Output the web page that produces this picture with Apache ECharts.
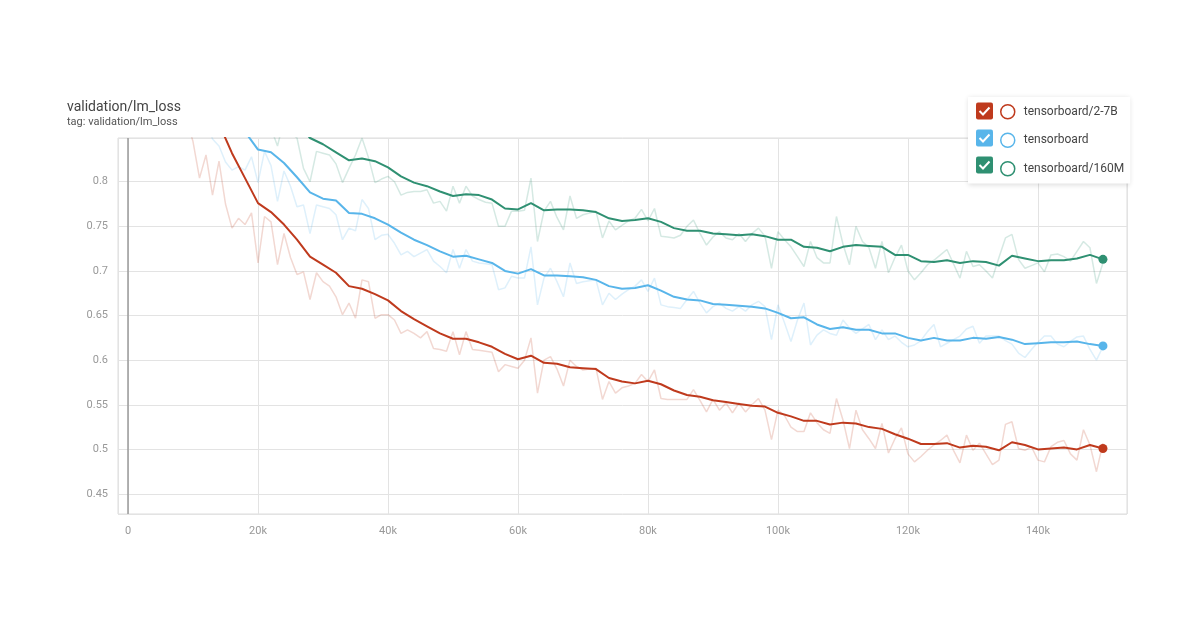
<!DOCTYPE html>
<html>
<head>
<meta charset="utf-8">
<title>validation/lm_loss</title>
<script src="https://cdn.jsdelivr.net/npm/echarts@6/dist/echarts.min.js"></script>
<style>
  html, body { margin: 0; padding: 0; background: #fff; }
  #chart { width: 1200px; height: 630px; }
</style>
</head>
<body>
<div id="chart"></div>
<script>
// run names as shown in the legend
const names = ["tensorboard/2-7B", "tensorboard", "tensorboard/160M"];
const colors = ["#bf3a1d", "#58b5ea", "#2f9072"];

// raw eval points, one every 1k steps (values in k steps)
const rawStepsK = [
  8, 9,
  10, 11, 12, 13, 14, 15, 16, 17, 18, 19,
  20, 21, 22, 23, 24, 25, 26, 27, 28, 29,
  30, 31, 32, 33, 34, 35, 36, 37, 38, 39,
  40, 41, 42, 43, 44, 45, 46, 47, 48, 49,
  50, 51, 52, 53, 54, 55, 56, 57, 58, 59,
  60, 61, 62, 63, 64, 65, 66, 67, 68, 69,
  70, 71, 72, 73, 74, 75, 76, 77, 78, 79,
  80, 81, 82, 83, 84, 85, 86, 87, 88, 89,
  90, 91, 92, 93, 94, 95, 96, 97, 98, 99,
  100, 101, 102, 103, 104, 105, 106, 107, 108, 109,
  110, 111, 112, 113, 114, 115, 116, 117, 118, 119,
  120, 121, 122, 123, 124, 125, 126, 127, 128, 129,
  130, 131, 132, 133, 134, 135, 136, 137, 138, 139,
  140, 141, 142, 143, 144, 145, 146, 147, 148, 149,
  150
];

const raw27B = [
  0.93, 0.87,
  0.845, 0.804, 0.830, 0.785, 0.823, 0.775, 0.748, 0.759, 0.752, 0.765,
  0.709, 0.761, 0.755, 0.707, 0.742, 0.715, 0.696, 0.699, 0.668, 0.698,
  0.688, 0.683, 0.671, 0.651, 0.664, 0.647, 0.690, 0.688, 0.647, 0.651,
  0.651, 0.645, 0.630, 0.634, 0.630, 0.625, 0.632, 0.613, 0.612, 0.610,
  0.632, 0.606, 0.632, 0.612, 0.611, 0.610, 0.609, 0.587, 0.595, 0.593,
  0.591, 0.600, 0.625, 0.563, 0.600, 0.604, 0.590, 0.571, 0.600, 0.593,
  0.589, 0.590, 0.591, 0.556, 0.576, 0.563, 0.569, 0.571, 0.574, 0.584,
  0.576, 0.589, 0.557, 0.556, 0.556, 0.556, 0.556, 0.567, 0.555, 0.542,
  0.556, 0.544, 0.552, 0.541, 0.552, 0.542, 0.550, 0.557, 0.544, 0.511,
  0.544, 0.538, 0.525, 0.520, 0.520, 0.541, 0.530, 0.522, 0.518, 0.557,
  0.533, 0.501, 0.544, 0.522, 0.512, 0.501, 0.529, 0.496, 0.512, 0.524,
  0.495, 0.486, 0.492, 0.499, 0.505, 0.510, 0.516, 0.499, 0.485, 0.516,
  0.499, 0.507, 0.495, 0.483, 0.488, 0.528, 0.531, 0.501, 0.499, 0.503,
  0.488, 0.486, 0.503, 0.508, 0.510, 0.495, 0.488, 0.522, 0.505, 0.475,
  0.507
];

const rawBase = [
  null, null,
  0.93, 0.90, 0.87, 0.848, 0.840, 0.822, 0.813, 0.817, 0.813, 0.828,
  0.799, 0.834, 0.818, 0.778, 0.812, 0.795, 0.772, 0.774, 0.742, 0.774,
  0.772, 0.770, 0.763, 0.735, 0.748, 0.745, 0.780, 0.770, 0.735, 0.740,
  0.741, 0.731, 0.718, 0.722, 0.716, 0.720, 0.724, 0.711, 0.705, 0.698,
  0.724, 0.703, 0.724, 0.711, 0.709, 0.708, 0.707, 0.679, 0.681, 0.694,
  0.692, 0.692, 0.727, 0.662, 0.692, 0.703, 0.688, 0.671, 0.709, 0.686,
  0.688, 0.689, 0.690, 0.662, 0.675, 0.668, 0.674, 0.679, 0.683, 0.690,
  0.677, 0.692, 0.662, 0.660, 0.659, 0.658, 0.668, 0.677, 0.664, 0.653,
  0.660, 0.664, 0.658, 0.655, 0.660, 0.655, 0.662, 0.666, 0.660, 0.623,
  0.662, 0.642, 0.621, 0.645, 0.664, 0.617, 0.628, 0.634, 0.630, 0.628,
  0.645, 0.636, 0.630, 0.635, 0.640, 0.623, 0.634, 0.623, 0.627, 0.620,
  0.615, 0.617, 0.622, 0.632, 0.640, 0.615, 0.619, 0.623, 0.627, 0.635,
  0.638, 0.619, 0.627, 0.627, 0.627, 0.622, 0.618, 0.608, 0.603, 0.612,
  0.620, 0.627, 0.627, 0.618, 0.615, 0.621, 0.626, 0.627, 0.612, 0.600,
  0.615
];

const raw160M = [
  null, null,
  null, null, null, null, null, null, null, null, null, null,
  0.95, 0.90, 0.86, 0.840, 0.87, 0.855, 0.849, 0.815, 0.800, 0.834,
  0.832, 0.830, 0.820, 0.799, 0.815, 0.830, 0.849, 0.827, 0.799, 0.803,
  0.806, 0.800, 0.785, 0.788, 0.789, 0.789, 0.791, 0.776, 0.778, 0.767,
  0.795, 0.776, 0.795, 0.784, 0.780, 0.777, 0.776, 0.750, 0.750, 0.767,
  0.767, 0.768, 0.804, 0.733, 0.767, 0.778, 0.760, 0.746, 0.784, 0.759,
  0.763, 0.765, 0.767, 0.737, 0.756, 0.746, 0.751, 0.756, 0.759, 0.769,
  0.756, 0.770, 0.739, 0.738, 0.737, 0.740, 0.750, 0.757, 0.742, 0.729,
  0.738, 0.744, 0.737, 0.735, 0.742, 0.733, 0.742, 0.748, 0.739, 0.703,
  0.744, 0.735, 0.727, 0.716, 0.705, 0.733, 0.715, 0.709, 0.709, 0.761,
  0.730, 0.707, 0.750, 0.733, 0.726, 0.703, 0.733, 0.698, 0.715, 0.729,
  0.700, 0.690, 0.698, 0.707, 0.712, 0.718, 0.724, 0.708, 0.692, 0.722,
  0.705, 0.707, 0.700, 0.692, 0.715, 0.737, 0.741, 0.713, 0.703, 0.706,
  0.709, 0.699, 0.718, 0.719, 0.716, 0.711, 0.722, 0.733, 0.726, 0.686,
  0.709
];

// smoothed curves, read every 2k steps
const smoothStepsK = [
  10, 12, 14, 16, 18, 20, 22, 24, 26, 28,
  30, 32, 34, 36, 38, 40, 42, 44, 46, 48,
  50, 52, 54, 56, 58, 60, 62, 64, 66, 68,
  70, 72, 74, 76, 78, 80, 82, 84, 86, 88,
  90, 92, 94, 96, 98, 100, 102, 104, 106, 108,
  110, 112, 114, 116, 118, 120, 122, 124, 126, 128,
  130, 132, 134, 136, 138, 140, 142, 144, 146, 148,
  150
];

const smooth27B = [
  0.93, 0.90, 0.865, 0.832, 0.804, 0.776, 0.766, 0.752, 0.735, 0.716,
  0.707, 0.698, 0.683, 0.680, 0.674, 0.667, 0.655, 0.646, 0.638, 0.630,
  0.624, 0.624, 0.620, 0.615, 0.607, 0.601, 0.605, 0.597, 0.596, 0.592,
  0.591, 0.590, 0.580, 0.576, 0.574, 0.577, 0.573, 0.566, 0.561, 0.559,
  0.555, 0.553, 0.551, 0.549, 0.548, 0.541, 0.537, 0.532, 0.532, 0.528,
  0.530, 0.529, 0.525, 0.523, 0.517, 0.512, 0.506, 0.506, 0.507, 0.502,
  0.504, 0.503, 0.499, 0.508, 0.505, 0.500, 0.501, 0.502, 0.500, 0.505,
  0.501
];

const smoothBase = [
  0.95, 0.93, 0.905, 0.88, 0.856, 0.836, 0.833, 0.821, 0.805, 0.788,
  0.781, 0.779, 0.765, 0.764, 0.759, 0.752, 0.743, 0.735, 0.729, 0.722,
  0.716, 0.717, 0.713, 0.709, 0.700, 0.697, 0.702, 0.695, 0.695, 0.694,
  0.693, 0.690, 0.683, 0.680, 0.681, 0.684, 0.678, 0.671, 0.668, 0.667,
  0.663, 0.662, 0.661, 0.660, 0.658, 0.653, 0.647, 0.648, 0.640, 0.635,
  0.637, 0.634, 0.634, 0.630, 0.630, 0.625, 0.622, 0.625, 0.622, 0.622,
  0.625, 0.624, 0.626, 0.623, 0.618, 0.619, 0.620, 0.620, 0.621, 0.618,
  0.616
];

const smooth160M = [
  null, null, null, null, null, 0.92, 0.90, 0.885, 0.866, 0.849,
  0.842, 0.833, 0.824, 0.826, 0.823, 0.816, 0.806, 0.799, 0.795, 0.789,
  0.784, 0.786, 0.785, 0.780, 0.770, 0.769, 0.776, 0.768, 0.769, 0.769,
  0.768, 0.766, 0.759, 0.756, 0.757, 0.759, 0.755, 0.748, 0.745, 0.745,
  0.742, 0.741, 0.740, 0.741, 0.739, 0.735, 0.735, 0.727, 0.726, 0.722,
  0.727, 0.729, 0.728, 0.727, 0.718, 0.718, 0.711, 0.710, 0.712, 0.709,
  0.711, 0.710, 0.706, 0.717, 0.714, 0.711, 0.712, 0.712, 0.714, 0.718,
  0.713
];

const rawSets = [raw27B, rawBase, raw160M];
const smoothSets = [smooth27B, smoothBase, smooth160M];

function toPairs(stepsK, values) {
  const out = [];
  values.forEach((v, i) => {
    if (v !== null) out.push([stepsK[i] * 1000, v]);
  });
  return out;
}

// last smoothed point gets the dot
function smoothData(values) {
  const pairs = toPairs(smoothStepsK, values);
  const last = pairs.pop();
  pairs.push({ value: last, symbol: "circle", symbolSize: 9 });
  return pairs;
}

const chartDom = document.getElementById("chart");
const myChart = echarts.init(chartDom, null, { renderer: "canvas" });

const series = [];
rawSets.forEach((vals, i) => {
  series.push({
    name: names[i] + " raw",
    type: "line",
    data: toPairs(rawStepsK, vals),
    symbol: "none",
    z: 1,
    lineStyle: { color: colors[i], width: 1.5, opacity: 0.2 },
    itemStyle: { color: colors[i] },
  });
});
smoothSets.forEach((vals, i) => {
  series.push({
    name: names[i],
    type: "line",
    data: smoothData(vals),
    symbol: "none",
    showSymbol: true,
    z: 3,
    lineStyle: { color: colors[i], width: 2 },
    itemStyle: { color: colors[i] },
    markLine: i === 0 ? {
      silent: true,
      symbol: "none",
      label: { show: false },
      lineStyle: { color: "#9a9a9a", width: 1.5, type: "solid" },
      data: [{ xAxis: 0 }],
    } : undefined,
  });
});

// checkboxes next to the legend entries
const rowCenters = [111, 138, 165];
const checkboxes = [];
rowCenters.forEach((c, i) => {
  checkboxes.push({
    type: "rect",
    shape: { x: 976, y: c - 8.5, width: 17, height: 17, r: 2 },
    style: { fill: colors[i] },
    z: 100,
  });
  checkboxes.push({
    type: "polyline",
    shape: { points: [[979.5, c], [983, c + 3.5], [989.5, c - 3.5]] },
    style: { stroke: "#fff", lineWidth: 2, fill: null },
    z: 101,
  });
});

const option = {
  animation: false,
  backgroundColor: "#fff",
  title: {
    text: "validation/lm_loss",
    subtext: "tag: validation/lm_loss",
    left: 62,
    top: 95,
    itemGap: 3,
    textStyle: { fontSize: 14, fontWeight: "normal", color: "#444", fontFamily: "Roboto" },
    subtextStyle: { fontSize: 11, color: "#555", fontFamily: "Roboto" },
  },
  legend: {
    orient: "vertical",
    left: 968,
    top: 97,
    padding: [7, 6, 7, 32],
    itemGap: 13,
    itemWidth: 14,
    itemHeight: 14,
    backgroundColor: "#fff",
    shadowBlur: 5,
    shadowColor: "rgba(0,0,0,0.14)",
    shadowOffsetY: 1,
    selectedMode: false,
    textStyle: { color: "#444", fontSize: 12, fontFamily: "Roboto", padding: [0, 0, 0, 4] },
    data: names.map((n, i) => ({
      name: n,
      icon: "circle",
      itemStyle: { color: "#fff", borderColor: colors[i], borderWidth: 1.5 },
    })),
  },
  graphic: checkboxes,
  grid: {
    left: 118,
    right: 73,
    top: 138,
    bottom: 116,
    show: true,
    borderColor: "#dcdcdc",
    borderWidth: 1,
  },
  xAxis: {
    type: "value",
    min: -1540,
    max: 153700,
    splitNumber: 8,
    axisLine: { show: false },
    axisTick: { show: false },
    splitLine: { lineStyle: { color: "#e3e3e3" } },
    axisLabel: {
      color: "#999",
      fontSize: 11,
      fontFamily: "Roboto",
      margin: 12,
      formatter: function (v) {
        if (v % 20000 !== 0) return "";
        return v === 0 ? "0" : v / 1000 + "k";
      },
    },
  },
  yAxis: {
    type: "value",
    min: 0.4276,
    max: 0.849,
    splitNumber: 8,
    axisLine: { show: false },
    axisTick: { show: false },
    splitLine: { lineStyle: { color: "#e3e3e3" } },
    axisLabel: {
      color: "#999",
      fontSize: 11,
      fontFamily: "Roboto",
      margin: 10,
      formatter: function (v) {
        if (Math.abs(v * 20 - Math.round(v * 20)) > 1e-6) return "";
        return String(Math.round(v * 100) / 100);
      },
    },
  },
  series: series,
};

myChart.setOption(option);
</script>
</body>
</html>
